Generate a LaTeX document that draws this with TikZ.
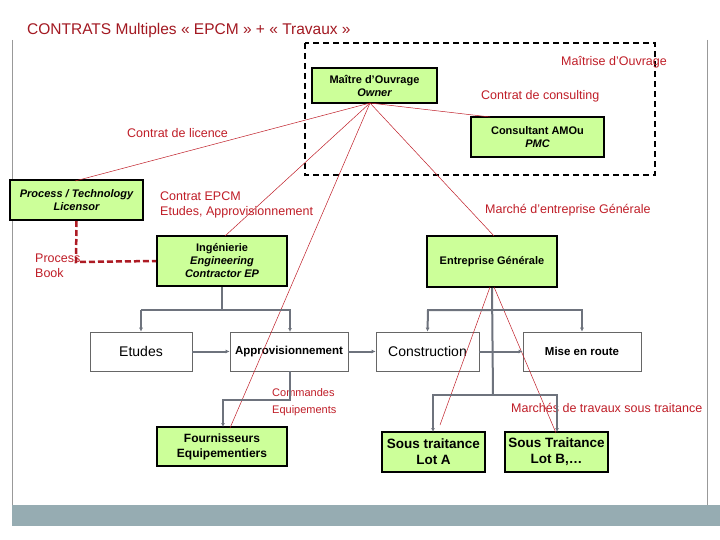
\documentclass[tikz,border=0pt]{standalone}
\usepackage{fontspec}
\setmainfont{Liberation Sans}
\usetikzlibrary{arrows.meta}
\definecolor{grn}{RGB}{204,255,153}
\definecolor{rd}{RGB}{192,30,40}
\definecolor{gl}{RGB}{110,115,125}
\definecolor{bar}{RGB}{150,172,178}
\begin{document}
\begin{tikzpicture}[x=1pt,y=-1pt,
 gbox/.style={draw,line width=2pt,fill=grn,inner sep=0,align=center,font=\fontsize{11}{13}\selectfont\bfseries},
 wbox/.style={draw=black!60,line width=0.6pt,fill=white,inner sep=0,align=center},
 lbl/.style={text=rd,font=\fontsize{12.5}{15}\selectfont,align=left,inner sep=0},
 rl/.style={draw=rd,line width=0.5pt},
 gc/.style={draw=gl,line width=2pt,-{Latex[length=4pt,width=4pt]}},
 gl2/.style={draw=gl,line width=2pt}]
\useasboundingbox (0,0) rectangle (720,540);
\fill[white] (0,0) rectangle (720,540);
\draw[gray!80,line width=1pt] (12,40)--(12,505) (707,40)--(707,505);
\fill[bar] (12,505) rectangle (720,526);
\node[anchor=west,text=rd!85!black,font=\fontsize{15.5}{18}\selectfont,inner sep=0] (title) at (27,30) {CONTRATS Multiples « EPCM » + « Travaux »};
\draw[line width=2pt,dash pattern=on 6pt off 4pt] (305,43) rectangle (655,175);
\node[lbl,anchor=east] (mo) at (667,62) {Maîtrise d’Ouvrage};
% boxes
\node[gbox,minimum width=125,minimum height=35] (own) at (374.5,85.5) {Maître d’Ouvrage\\\itshape Owner};
\node[gbox,minimum width=133,minimum height=40] (cons) at (537.5,137) {Consultant AMOu\\\itshape PMC};
\node[gbox,minimum width=133,minimum height=40,font=\fontsize{11}{13}\selectfont\bfseries\itshape] (lic) at (76.5,200) {Process / Technology\\Licensor};
\node[gbox,minimum width=130,minimum height=50] (ing) at (222,261) {Ingénierie\\\itshape Engineering\\\itshape Contractor EP};
\node[gbox,minimum width=130,minimum height=51] (eg) at (492,261.5) {Entreprise Générale};
\node[gbox,minimum width=130,minimum height=39,font=\fontsize{12}{15}\selectfont\bfseries] (four) at (222,446.5) {Fournisseurs\\Equipementiers};
\node[gbox,minimum width=103,minimum height=40,font=\fontsize{13.5}{16}\selectfont\bfseries] (sa) at (433.5,452) {Sous traitance\\Lot A};
\node[gbox,minimum width=103,minimum height=40,font=\fontsize{13.5}{16}\selectfont\bfseries] (sb) at (556.5,452) {Sous Traitance\\Lot B,…};
\node[wbox,minimum width=102,minimum height=39,font=\fontsize{14}{16}\selectfont] (et) at (141,351.5) {Etudes};
\node[wbox,minimum width=118,minimum height=39,font=\fontsize{11.5}{13}\selectfont\bfseries] (ap) at (289,351.5) {Approvisionnement};
\node[wbox,minimum width=103,minimum height=39,font=\fontsize{14}{16}\selectfont] (co) at (427.5,351.5) {Construction};
\node[wbox,minimum width=118,minimum height=39,font=\fontsize{11.5}{13}\selectfont\bfseries] (mr) at (582,351.5) {Mise en route};
% labels
\node[lbl,anchor=west] (l1) at (481,96) {Contrat de consulting};
\node[lbl,anchor=west] (l2) at (127,133) {Contrat de licence};
\node[lbl,anchor=north west] (l3) at (160,192) {Contrat EPCM\\Etudes, Approvisionnement};
\node[lbl,anchor=west] (l4) at (485,210) {Marché d’entreprise Générale};
\node[lbl,anchor=north west] (l5) at (35,254) {Process\\Book};
\node[lbl,anchor=north west,font=\fontsize{11}{17}\selectfont] (l6) at (272,388) {Commandes\\Equipements};
\node[lbl,anchor=west] (l7) at (511,408) {Marchés de travaux sous traitance};
% red lines
\coordinate (o) at (370,103);
\draw[rl] (o) -- (75,181);
\draw[rl] (o) -- (225,236);
\draw[rl] (o) -- (230,428);
\draw[rl] (o) -- (490,117);
\draw[rl] (o) -- (494,236);
\draw[rl] (490,287) -- (440,425);
\draw[rl] (494,287) -- (556,433);
\draw[draw=rd!90!black,line width=2.5pt,dash pattern=on 6pt off 3pt] (lic.south) -- (76,262) -- (ing.west);
% gray connectors
\draw[gl2] (ing.south) -- (222,310);
\draw[gc] (141,310) -- (et.north);
\draw[gc] (141,310) -- (290,310) -- (290,332);
\draw[gc] (et.east) -- (ap.west);
\draw[gc] (ap.east) -- (co.west);
\draw[gc] (co.east) -- (mr.west);
\draw[gc] (290,371) -- (290,400) -- (223,400) -- (223,427);
\draw[gl2] (eg.south) -- (493,395);
\draw[gc] (493,310) -- (428,310) -- (co.north);
\draw[gc] (493,310) -- (582,310) -- (mr.north);
\draw[gc] (493,395) -- (433,395) -- (433,432);
\draw[gc] (493,395) -- (557,395) -- (557,432);
\end{tikzpicture}
\end{document}
